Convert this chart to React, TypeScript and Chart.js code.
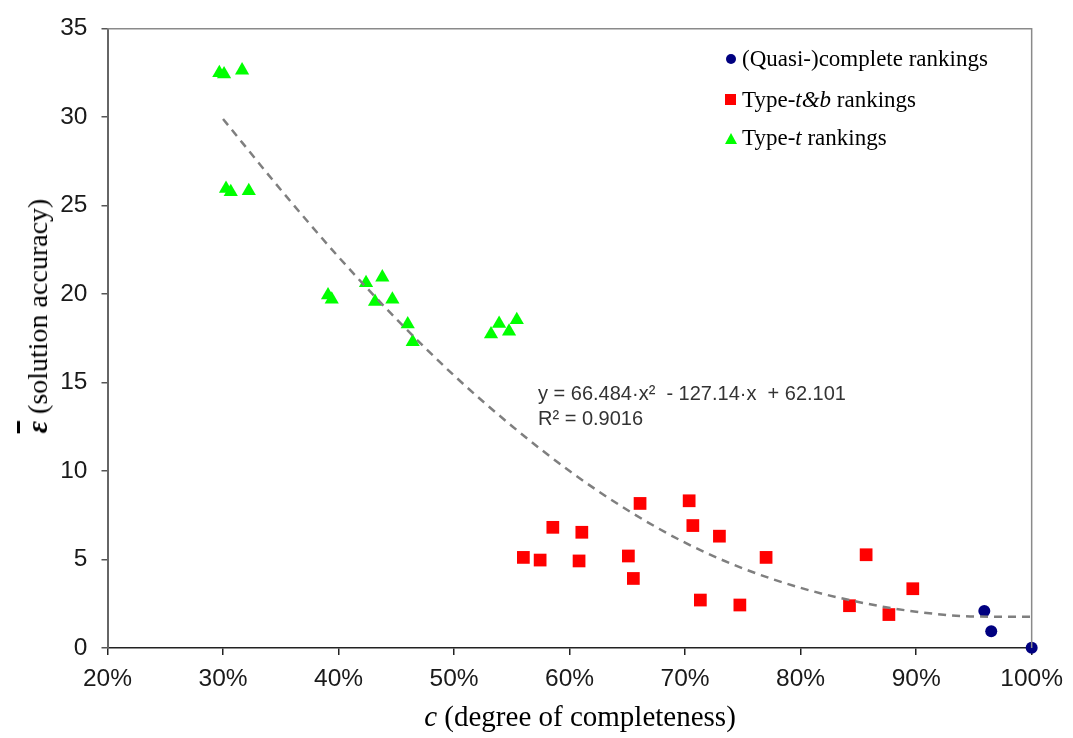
import React, { useEffect, useRef } from "react";
import { Chart, registerables } from "chart.js";

Chart.register(...registerables);

// (Quasi-)complete rankings
const completeX = [95.9, 96.5, 100];
const completeY = [2.09, 0.94, 0.02];

// Type-t&b rankings
const tbX = [56.0, 57.45, 58.55, 60.82, 61.06, 65.09, 65.52, 66.1, 70.35, 70.67, 71.32, 72.97, 74.74, 77.01, 84.23, 85.67, 87.64, 89.71];
const tbY = [5.12, 4.97, 6.82, 4.92, 6.54, 5.2, 3.93, 8.17, 8.32, 6.92, 2.71, 6.32, 2.43, 5.12, 2.39, 5.27, 1.89, 3.35];

// Type-t rankings
const tX = [29.68, 30.09, 31.65, 30.26, 30.67, 32.23, 39.09, 39.41, 42.38, 43.79, 43.16, 44.66, 45.99, 46.42, 53.2, 53.9, 54.76, 55.43];
const tY = [32.5, 32.43, 32.65, 25.96, 25.77, 25.83, 19.94, 19.7, 20.63, 20.95, 19.57, 19.7, 18.3, 17.3, 17.74, 18.33, 17.89, 18.54];

// Trend line
const trendX = [30, 35, 40, 45, 50, 55, 60, 65, 70, 75, 80, 85, 90, 95, 100];
const trendY = [29.9, 25.9, 22.1, 18.6, 15.4, 12.55, 10.0, 7.8, 5.95, 4.5, 3.4, 2.6, 2.05, 1.78, 1.76];

// Ticks
const xTickMin = 20;
const xTickMax = 100;
const xTickStep = 10;
const yTickMin = 0;
const yTickMax = 35;
const yTickStep = 5;

const SANS = "'Liberation Sans', Arial, sans-serif";
const SERIF = "'Liberation Serif', 'Times New Roman', serif";

const toPts = (xs: number[], ys: number[]) => xs.map((x, i) => ({ x, y: ys[i] }));

const framePlugin = {
  id: "frame",
  afterDraw(chart: any) {
    const { ctx, chartArea } = chart;
    const { left, top, right, bottom } = chartArea;
    ctx.save();
    ctx.strokeStyle = "#8a8a8a";
    ctx.lineWidth = 1.5;
    ctx.beginPath();
    ctx.moveTo(left, top);
    ctx.lineTo(right, top);
    ctx.lineTo(right, bottom);
    ctx.stroke();
    ctx.restore();
  },
};

export default function App() {
  const canvasRef = useRef<HTMLCanvasElement | null>(null);

  useEffect(() => {
    document.body.style.margin = "0";
    const canvas = canvasRef.current;
    if (!canvas) return;
    const chart = new Chart(canvas, {
      type: "scatter",
      data: {
        datasets: [
          {
            type: "line",
            label: "trend",
            data: toPts(trendX, trendY),
            borderColor: "#7f7f7f",
            borderWidth: 2.5,
            borderDash: [8, 6],
            pointRadius: 0,
            fill: false,
            cubicInterpolationMode: "monotone",
            order: 0,
          } as any,
          {
            label: "(Quasi-)complete rankings",
            data: toPts(completeX, completeY),
            pointStyle: "circle",
            pointRadius: 6,
            backgroundColor: "#000080",
            borderColor: "#000080",
            borderWidth: 0,
            clip: false,
            order: 1,
          },
          {
            label: "Type-t&b rankings",
            data: toPts(tbX, tbY),
            pointStyle: "rect",
            pointRadius: 9,
            backgroundColor: "#ff0000",
            borderColor: "#ff0000",
            borderWidth: 0,
            clip: false,
            order: 1,
          },
          {
            label: "Type-t rankings",
            data: toPts(tX, tY),
            pointStyle: "triangle",
            pointRadius: 8.2,
            backgroundColor: "#00ff00",
            borderColor: "#00ff00",
            borderWidth: 0,
            clip: false,
            order: 1,
          },
        ],
      },
      options: {
        animation: false,
        responsive: false,
        maintainAspectRatio: false,
        layout: { padding: { top: 24, right: 41, left: 0, bottom: 0 } },
        plugins: {
          legend: { display: false },
          tooltip: { enabled: false },
        },
        scales: {
          x: {
            type: "linear",
            min: xTickMin,
            max: xTickMax,
            ticks: {
              stepSize: xTickStep,
              callback: (v: any) => `${v}%`,
              font: { family: SANS, size: 24.5 },
              color: "#1a1a1a",
              padding: 10,
              maxRotation: 0,
            },
            grid: { drawOnChartArea: false, drawTicks: true, tickLength: 7, color: "#222", lineWidth: 1.5 },
            border: { display: true, color: "#222", width: 1.5 },
            afterFit: (scale: any) => {
              scale.height = 90;
            },
          },
          y: {
            type: "linear",
            min: yTickMin,
            max: yTickMax,
            ticks: {
              stepSize: yTickStep,
              font: { family: SANS, size: 24.5 },
              color: "#1a1a1a",
              padding: 14,
            },
            grid: { drawOnChartArea: false, drawTicks: true, tickLength: 6, color: "#555", lineWidth: 1.5 },
            border: { display: true, color: "#666", width: 2 },
            afterFit: (scale: any) => {
              scale.width = 107.5;
            },
          },
        },
      },
      plugins: [framePlugin],
    });
    return () => chart.destroy();
  }, []);

  const legendRow: React.CSSProperties = {
    position: "absolute",
    left: 742,
    fontFamily: SERIF,
    fontSize: 23,
    color: "#000",
    whiteSpace: "nowrap",
    lineHeight: "26px",
    transform: "translateY(-50%)",
  };

  return (
    <div style={{ position: "relative", width: 1073, height: 738, background: "#fff" }}>
      <canvas ref={canvasRef} width={1073} height={738} style={{ display: "block" }} />

      {/* Legend */}
      <div style={{ position: "absolute", left: 726, top: 54, width: 10, height: 10, borderRadius: "50%", background: "#000080" }} />
      <div style={{ ...legendRow, top: 59 }}>(Quasi-)complete rankings</div>
      <div style={{ position: "absolute", left: 725, top: 94, width: 11, height: 11, background: "#ff0000" }} />
      <div style={{ ...legendRow, top: 100 }}>
        Type-<i>t&amp;b</i> rankings
      </div>
      <div
        style={{
          position: "absolute",
          left: 725,
          top: 133,
          width: 0,
          height: 0,
          borderLeft: "6px solid transparent",
          borderRight: "6px solid transparent",
          borderBottom: "11px solid #00ff00",
        }}
      />
      <div style={{ ...legendRow, top: 138 }}>
        Type-<i>t</i> rankings
      </div>

      {/* Equation */}
      <div
        style={{
          position: "absolute",
          left: 538,
          top: 381,
          fontFamily: SANS,
          fontSize: 20,
          lineHeight: "25px",
          color: "#333",
          whiteSpace: "pre",
        }}
      >
        {"y = 66.484·x²  - 127.14·x  + 62.101\nR² = 0.9016"}
      </div>

      {/* X title */}
      <div
        style={{
          position: "absolute",
          left: 580,
          top: 716,
          transform: "translate(-50%, -50%)",
          fontFamily: SERIF,
          fontSize: 29,
          color: "#000",
          whiteSpace: "nowrap",
        }}
      >
        <i>c</i> (degree of completeness)
      </div>

      {/* Y title */}
      <div
        style={{
          position: "absolute",
          left: 37,
          top: 316,
          transform: "translate(-50%, -50%) rotate(-90deg)",
          fontFamily: SERIF,
          fontSize: 28,
          color: "#000",
          whiteSpace: "nowrap",
        }}
      >
        <span style={{ fontWeight: "bold", fontStyle: "italic", fontSize: 30, textDecoration: "overline" }}>ε</span>
        {"  (solution accuracy)"}
      </div>
    </div>
  );
}
